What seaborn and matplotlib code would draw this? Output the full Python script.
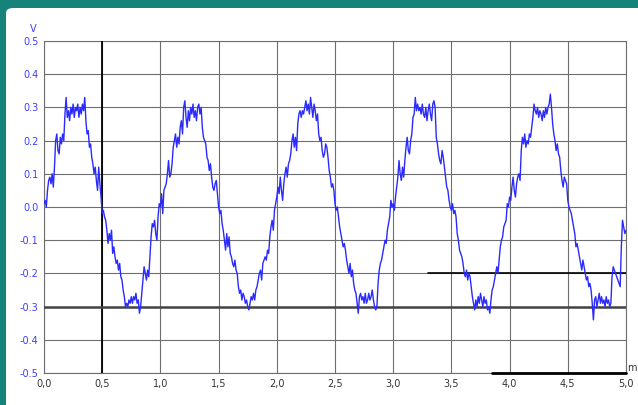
import numpy as np
import pandas as pd
import matplotlib
matplotlib.use("Agg")
import matplotlib.pyplot as plt
from matplotlib.patches import FancyBboxPatch
import seaborn as sns

# Sampled signal: time step 0.01 from 0.00 to 5.00, voltage in V
t_start = 0.0
t_step = 0.01

volts_1 = [
    0.01, 0.02, 0.00, 0.05, 0.08, 0.09, 0.07, 0.10, 0.06, 0.12,
    0.20, 0.22, 0.17, 0.16, 0.21, 0.19, 0.22, 0.20, 0.28, 0.33,
    0.27, 0.29, 0.26, 0.30, 0.28, 0.31, 0.27, 0.30, 0.29, 0.31,
    0.27, 0.30, 0.28, 0.31, 0.29, 0.33, 0.26, 0.22, 0.23, 0.18,
    0.19, 0.15, 0.13, 0.10, 0.12, 0.08, 0.05, 0.12, 0.07, 0.03,
    -0.02, -0.01, -0.03, -0.04, -0.07, -0.11, -0.08, -0.10, -0.07, -0.14,
    -0.12, -0.15, -0.17, -0.16, -0.19, -0.17, -0.21, -0.22, -0.25, -0.27,
    -0.30, -0.29, -0.30, -0.28, -0.29, -0.27, -0.29, -0.27, -0.28, -0.26,
    -0.29, -0.28, -0.32, -0.30, -0.26, -0.22, -0.18, -0.20, -0.22, -0.19,
    -0.21, -0.15, -0.09, -0.05, -0.06, -0.04, -0.08, -0.10, -0.03, 0.01,
]
volts_2 = [
    0.00, 0.04, -0.02, 0.05, 0.06, 0.07, 0.10, 0.14, 0.09, 0.10,
    0.13, 0.18, 0.20, 0.22, 0.18, 0.21, 0.19, 0.24, 0.26, 0.22,
    0.30, 0.32, 0.27, 0.24, 0.29, 0.26, 0.30, 0.28, 0.31, 0.27,
    0.29, 0.26, 0.30, 0.31, 0.28, 0.30, 0.24, 0.21, 0.20, 0.19,
    0.15, 0.14, 0.11, 0.13, 0.09, 0.06, 0.05, 0.07, 0.08, 0.04,
    0.00, -0.02, -0.01, -0.05, -0.07, -0.10, -0.13, -0.08, -0.12, -0.09,
    -0.14, -0.15, -0.17, -0.18, -0.16, -0.19, -0.20, -0.24, -0.26, -0.25,
    -0.28, -0.26, -0.27, -0.29, -0.28, -0.30, -0.31, -0.29, -0.27, -0.28,
    -0.26, -0.28, -0.25, -0.24, -0.22, -0.20, -0.19, -0.22, -0.17, -0.16,
    -0.15, -0.16, -0.13, -0.14, -0.09, -0.06, -0.04, -0.07, -0.01, 0.01,
]
volts_3 = [
    0.03, 0.06, 0.04, 0.09, 0.05, 0.02, 0.07, 0.10, 0.12, 0.09,
    0.13, 0.14, 0.16, 0.20, 0.22, 0.18, 0.21, 0.17, 0.25, 0.28,
    0.29, 0.27, 0.29, 0.28, 0.30, 0.32, 0.29, 0.31, 0.28, 0.33,
    0.30, 0.27, 0.31, 0.29, 0.26, 0.28, 0.22, 0.20, 0.21, 0.17,
    0.15, 0.16, 0.19, 0.18, 0.15, 0.11, 0.09, 0.06, 0.07, 0.05,
    0.01, -0.01, 0.00, -0.03, -0.06, -0.08, -0.10, -0.12, -0.11, -0.13,
    -0.16, -0.18, -0.20, -0.17, -0.21, -0.19, -0.23, -0.25, -0.26, -0.29,
    -0.32, -0.27, -0.26, -0.28, -0.27, -0.29, -0.26, -0.29, -0.28, -0.26,
    -0.28, -0.27, -0.25, -0.28, -0.30, -0.31, -0.30, -0.23, -0.19, -0.17,
    -0.16, -0.14, -0.12, -0.10, -0.11, -0.07, -0.05, -0.03, 0.02, 0.00,
]
volts_4 = [
    0.01, -0.01, 0.03, 0.06, 0.09, 0.14, 0.10, 0.08, 0.12, 0.09,
    0.14, 0.18, 0.21, 0.17, 0.16, 0.20, 0.22, 0.27, 0.28, 0.33,
    0.29, 0.31, 0.29, 0.30, 0.28, 0.31, 0.28, 0.27, 0.30, 0.26,
    0.29, 0.31, 0.28, 0.26, 0.31, 0.32, 0.30, 0.21, 0.19, 0.16,
    0.14, 0.13, 0.17, 0.15, 0.12, 0.09, 0.06, 0.05, 0.02, 0.00,
    -0.01, 0.01, -0.02, -0.01, -0.03, -0.08, -0.10, -0.13, -0.14, -0.15,
    -0.17, -0.20, -0.21, -0.19, -0.22, -0.20, -0.21, -0.24, -0.27, -0.29,
    -0.31, -0.28, -0.30, -0.27, -0.29, -0.26, -0.28, -0.30, -0.27, -0.29,
    -0.28, -0.31, -0.30, -0.32, -0.28, -0.25, -0.24, -0.22, -0.20, -0.18,
    -0.20, -0.16, -0.12, -0.10, -0.09, -0.06, -0.05, -0.04, 0.01, 0.00,
]
volts_5 = [
    0.03, 0.02, 0.06, 0.09, 0.05, 0.03, 0.07, 0.09, 0.10, 0.08,
    0.17, 0.21, 0.19, 0.22, 0.18, 0.20, 0.19, 0.22, 0.21, 0.24,
    0.27, 0.31, 0.29, 0.28, 0.30, 0.27, 0.29, 0.28, 0.26, 0.29,
    0.27, 0.30, 0.28, 0.30, 0.31, 0.34, 0.30, 0.25, 0.22, 0.20,
    0.17, 0.19, 0.16, 0.15, 0.11, 0.08, 0.06, 0.09, 0.08, 0.07,
    0.02, 0.00, -0.01, -0.02, -0.04, -0.06, -0.08, -0.12, -0.11, -0.13,
    -0.15, -0.17, -0.19, -0.16, -0.18, -0.20, -0.22, -0.21, -0.24, -0.23,
    -0.25, -0.29, -0.34, -0.28, -0.27, -0.30, -0.28, -0.26, -0.29, -0.27,
    -0.29, -0.28, -0.30, -0.27, -0.29, -0.28, -0.30, -0.29, -0.21, -0.18,
    -0.19, -0.20, -0.21, -0.22, -0.23, -0.24, -0.12, -0.04, -0.06, -0.08,
    -0.07,
]

x_ticks = [0.0, 0.5, 1.0, 1.5, 2.0, 2.5, 3.0, 3.5, 4.0, 4.5, 5.0]
x_tick_labels = ["0,0", "0,5", "1,0", "1,5", "2,0", "2,5", "3,0", "3,5", "4,0", "4,5", "5,0"]
y_ticks = [0.5, 0.4, 0.3, 0.2, 0.1, 0.0, -0.1, -0.2, -0.3, -0.4, -0.5]
y_tick_labels = ["0.5", "0.4", "0.3", "0.2", "0.1", "0.0", "-0.1", "-0.2", "-0.3", "-0.4", "-0.5"]

# Cursor / marker lines of the scope view
cursor_x = 0.5
level_full_y = -0.3
level_part_y = -0.2
level_part_x = [3.3, 5.0]
base_part_y = -0.5
base_part_x = [3.85, 5.0]

volts = volts_1 + volts_2 + volts_3 + volts_4 + volts_5
times = [round(t_start + i * t_step, 2) for i in range(len(volts))]
df = pd.DataFrame({"t": times, "v": volts})

sns.set_theme(style="white")
plt.rcParams["font.family"] = ["DejaVu Sans"]

TEAL = "#15837a"
BLUE = "#2a2aff"
GRID = "#6e6e6e"

fig = plt.figure(figsize=(6.38, 4.05), dpi=100, facecolor=TEAL)

# white panel inside the teal frame
panel = FancyBboxPatch((6 / 638, -0.05), 1.2, 1.05 - 8 / 405,
                       boxstyle="round,pad=0,rounding_size=0.012",
                       transform=fig.transFigure, facecolor="white",
                       edgecolor="none", zorder=-10)
fig.patches.append(panel)

ax = fig.add_axes([44 / 638, 1 - 373 / 405, (626 - 44) / 638, (373 - 41) / 405])
ax.set_zorder(5)
ax.set_facecolor("white")

sns.lineplot(data=df, x="t", y="v", ax=ax, color=BLUE, linewidth=1.0,
             estimator=None, zorder=5)

ax.set_xlim(0, 5)
ax.set_ylim(-0.5, 0.5)
ax.set_xticks(x_ticks)
ax.set_xticklabels(x_tick_labels)
ax.set_yticks(y_ticks)
ax.set_yticklabels(y_tick_labels)
ax.tick_params(axis="x", colors="#333333", labelsize=7, length=0, pad=4)
ax.tick_params(axis="y", colors="#3d3dff", labelsize=7, length=0, pad=4)
ax.set_xlabel("")
ax.set_ylabel("")
ax.grid(True, color=GRID, linewidth=0.8)
for s in ax.spines.values():
    s.set_color(GRID)
    s.set_linewidth(0.8)

ax.axvline(cursor_x, color="black", linewidth=1.3, zorder=3)
ax.axhline(level_full_y, color="#444444", linewidth=1.8, zorder=3)
ax.plot(level_part_x, [level_part_y, level_part_y], color="black", linewidth=1.2, zorder=3)
ax.plot(base_part_x, [base_part_y, base_part_y], color="black", linewidth=2.0,
        zorder=6, clip_on=False)

# unit labels
ax.text(-0.012, 1.02, "V", transform=ax.transAxes, color="#3d3dff",
        fontsize=7, ha="right", va="bottom")
ax.text(1.002, 0.0, "m", transform=ax.transAxes, color="#333333",
        fontsize=7, ha="left", va="bottom")

fig.savefig("out.png", dpi=100, facecolor=TEAL)
